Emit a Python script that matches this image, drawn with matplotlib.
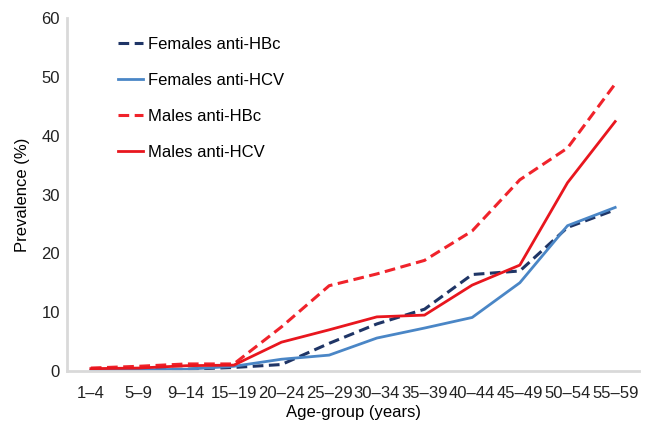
import matplotlib
matplotlib.use("Agg")
import matplotlib.pyplot as plt

plt.rcParams['font.family'] = ['Liberation Sans', 'DejaVu Sans']

age_groups = ["1–4", "5–9", "9–14", "15–19", "20–24", "25–29", "30–34",
              "35–39", "40–44", "45–49", "50–54", "55–59"]
females_hbc = [0.3, 0.3, 0.3, 0.6, 1.1, 4.7, 8.0, 10.5, 16.4, 17.0, 24.4, 27.4]
females_hcv = [0.1, 0.2, 0.3, 0.8, 2.0, 2.7, 5.6, 7.3, 9.1, 15.0, 24.7, 27.8]
males_hbc = [0.5, 0.8, 1.2, 1.2, 7.5, 14.5, 16.5, 18.8, 23.8, 32.5, 37.9, 48.8]
males_hcv = [0.4, 0.5, 0.9, 1.0, 4.9, 7.0, 9.2, 9.5, 14.6, 18.0, 32.0, 42.4]

fig = plt.figure(figsize=(6.52, 4.23), dpi=100)
ax = fig.add_axes([67/652, 1-371/423, (639-67)/652, (371-18)/423])

x = list(range(len(age_groups)))
ax.plot(x, females_hbc, color='#1f3566', lw=2.2, ls=(0, (3.5, 1.8)), label='Females anti-HBc')
ax.plot(x, females_hcv, color='#4a86c6', lw=2.0, label='Females anti-HCV')
ax.plot(x, males_hbc, color='#f0232b', lw=2.2, ls=(0, (3.5, 1.8)), label='Males anti-HBc')
ax.plot(x, males_hcv, color='#e8161e', lw=2.0, label='Males anti-HCV')

ax.set_xlim(-0.5, 11.5)
ax.set_ylim(0, 60)
ax.set_yticks([0, 10, 20, 30, 40, 50, 60])
ax.set_xticks(x)
ax.set_xticklabels(age_groups)
ax.tick_params(axis='both', length=0, labelsize=12, colors='#222222')
ax.tick_params(axis='x', pad=11)
ax.tick_params(axis='y', pad=5)

for s in ['top', 'right']:
    ax.spines[s].set_visible(False)
for s in ['left', 'bottom']:
    ax.spines[s].set_color('#d9d9d9')
    ax.spines[s].set_linewidth(2)

ax.set_ylabel('Prevalence (%)', fontsize=12, labelpad=8)
ax.set_xlabel('Age-group (years)', fontsize=12, labelpad=3)

leg = ax.legend(loc='upper left', bbox_to_anchor=(0.063, 0.99), frameon=False,
                fontsize=12, handlelength=1.5, handletextpad=0.3,
                labelspacing=1.27)

fig.savefig('out.png', dpi=100)
